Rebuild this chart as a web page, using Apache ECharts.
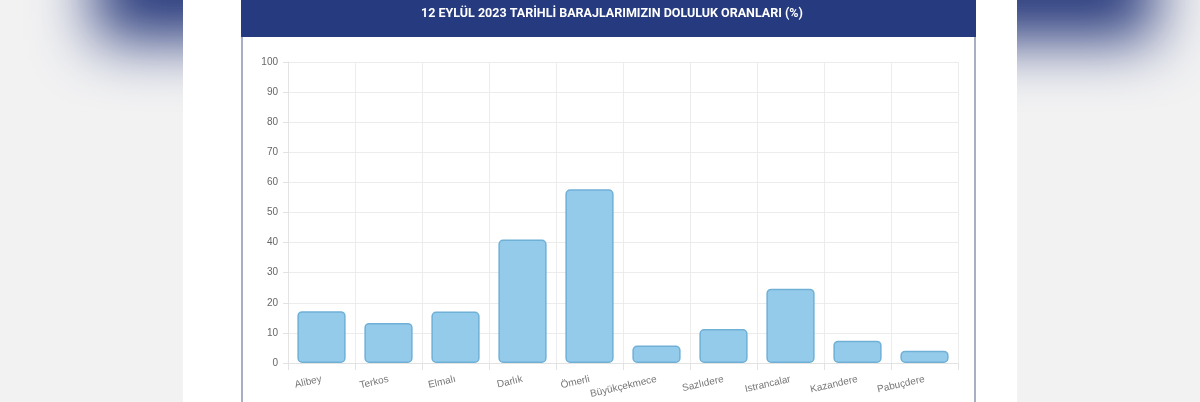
<!DOCTYPE html>
<html>
<head>
<meta charset="utf-8">
<script src="https://cdn.jsdelivr.net/npm/echarts@6/dist/echarts.min.js"></script>
<style>
html,body{margin:0;padding:0;background:#f2f2f2;}
#c{width:1200px;height:402px;}
</style>
</head>
<body>
<div id="c"></div>
<script>
const titleText = '12 EYLÜL 2023 TARİHLİ BARAJLARIMIZIN DOLULUK ORANLARI (%)';
const categories = ['Alibey','Terkos','Elmalı','Darlık','Ömerli','Büyükçekmece','Sazlıdere','Istrancalar','Kazandere','Pabuçdere'];
const values = [17.2, 13.3, 17.1, 41.0, 57.7, 5.8, 11.3, 24.7, 7.4, 4.1];
const yMin = 0, yMax = 100, yStep = 10;

const chart = echarts.init(document.getElementById('c'), null, {renderer:'canvas'});
chart.setOption({
  backgroundColor: '#f2f2f3',
  animation: false,
  graphic: [
    {type:'rect', z:-10, shape:{x:95, y:-1060, width:1060, height:100},
     style:{fill:'#283a7c', shadowColor:'#283a7c', shadowBlur:60, shadowOffsetY:1000}},
    {type:'rect', z:-5, shape:{x:183, y:0, width:834, height:402}, style:{fill:'#ffffff'}},
    {type:'rect', z:-4, shape:{x:241, y:0, width:735, height:37}, style:{fill:'#253a7f'}},
    {type:'rect', z:-4, shape:{x:241, y:37, width:2, height:365}, style:{fill:'#aab0c4'}},
    {type:'rect', z:-4, shape:{x:974, y:37, width:2, height:365}, style:{fill:'#aab0c4'}},
    {type:'text', z:5, x:612, y:14,
     style:{text:titleText, fill:'#ffffff', font:'bold 12.5px "Roboto", sans-serif', align:'center', verticalAlign:'middle'}}
  ],
  grid: {left:288, right:242, top:62, bottom:39, containLabel:false},
  xAxis: {
    type:'category',
    data: categories,
    boundaryGap: true,
    axisLine:{show:true, lineStyle:{color:'#e3e3e3'}},
    axisTick:{show:true, length:7, alignWithLabel:false, lineStyle:{color:'#e3e3e3'}},
    splitLine:{show:true, lineStyle:{color:'#ececec'}},
    axisLabel:{rotate:13, fontSize:10, color:'#777', margin:16, fontFamily:'"Liberation Sans", Arial, sans-serif', interval:0}
  },
  yAxis: {
    type:'value', min:yMin, max:yMax, interval:yStep,
    axisLine:{show:true, lineStyle:{color:'#e3e3e3'}},
    axisTick:{show:true, length:5, lineStyle:{color:'#e3e3e3'}},
    splitLine:{show:true, lineStyle:{color:'#ececec'}},
    axisLabel:{fontSize:10, color:'#666', margin:10, fontFamily:'"Liberation Sans", Arial, sans-serif'}
  },
  series: [{
    type:'bar',
    data: values,
    barCategoryGap:'28%',
    itemStyle:{color:'#94cbea', borderColor:'#6fb0d7', borderWidth:1.5, borderRadius:4}
  }]
});
</script>
</body>
</html>
